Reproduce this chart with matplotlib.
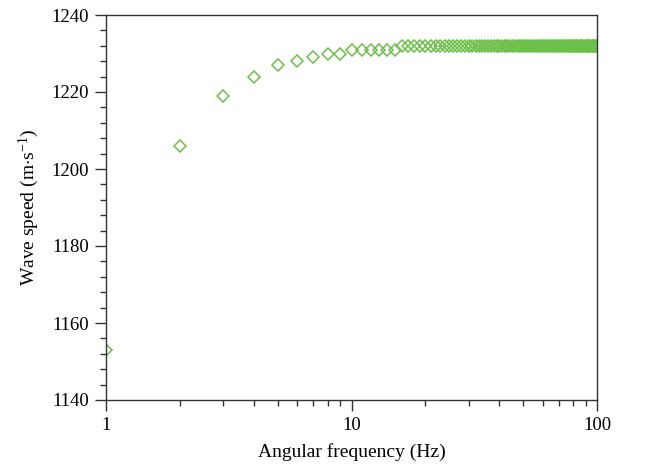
import matplotlib
matplotlib.use("Agg")
import matplotlib.pyplot as plt
from matplotlib.ticker import MultipleLocator, FixedLocator, FixedFormatter

plt.rcParams['font.family'] = ['Liberation Serif', 'DejaVu Serif']
plt.rcParams['mathtext.fontset'] = 'custom'
plt.rcParams['mathtext.rm'] = 'Liberation Serif'
plt.rcParams['mathtext.it'] = 'Liberation Serif:italic'

freq = list(range(1, 101))
speed_head = [1153, 1206, 1219, 1224, 1227, 1228, 1229, 1230, 1230,
              1231, 1231, 1231, 1231, 1231, 1231]
speed = speed_head + [1232] * (len(freq) - len(speed_head))

x_ticks = [1, 10, 100]
x_labels = ["1", "10", "100"]

fig = plt.figure(figsize=(6.45, 4.70), dpi=100)
ax = fig.add_axes([106/645, 1 - 400/470, (597-106)/645, (400-15)/470])

ax.plot(freq, speed, linestyle='none', marker='D', markersize=6.2,
        markerfacecolor='none', markeredgecolor='#6cbf48', markeredgewidth=1.1,
        clip_on=True)

ax.set_xscale('log')
ax.set_xlim(1, 100)
ax.set_ylim(1140, 1240)
ax.xaxis.set_major_locator(FixedLocator(x_ticks))
ax.xaxis.set_major_formatter(FixedFormatter(x_labels))
ax.yaxis.set_major_locator(MultipleLocator(20))
ax.yaxis.set_minor_locator(MultipleLocator(4))

ax.tick_params(which='both', direction='out', top=False, right=False,
               labelsize=13.5, color='#333333', width=1.0)
ax.tick_params(which='major', length=8, pad=4)
ax.tick_params(which='minor', length=4)
for s in ax.spines.values():
    s.set_color('#333333')
    s.set_linewidth(1.0)

ax.set_xlabel('Angular frequency (Hz)', fontsize=14, labelpad=7)
ax.set_ylabel(r'Wave speed (m$\cdot$s$^{-1}$)', fontsize=14, labelpad=8)

fig.savefig('out.png', dpi=100)
